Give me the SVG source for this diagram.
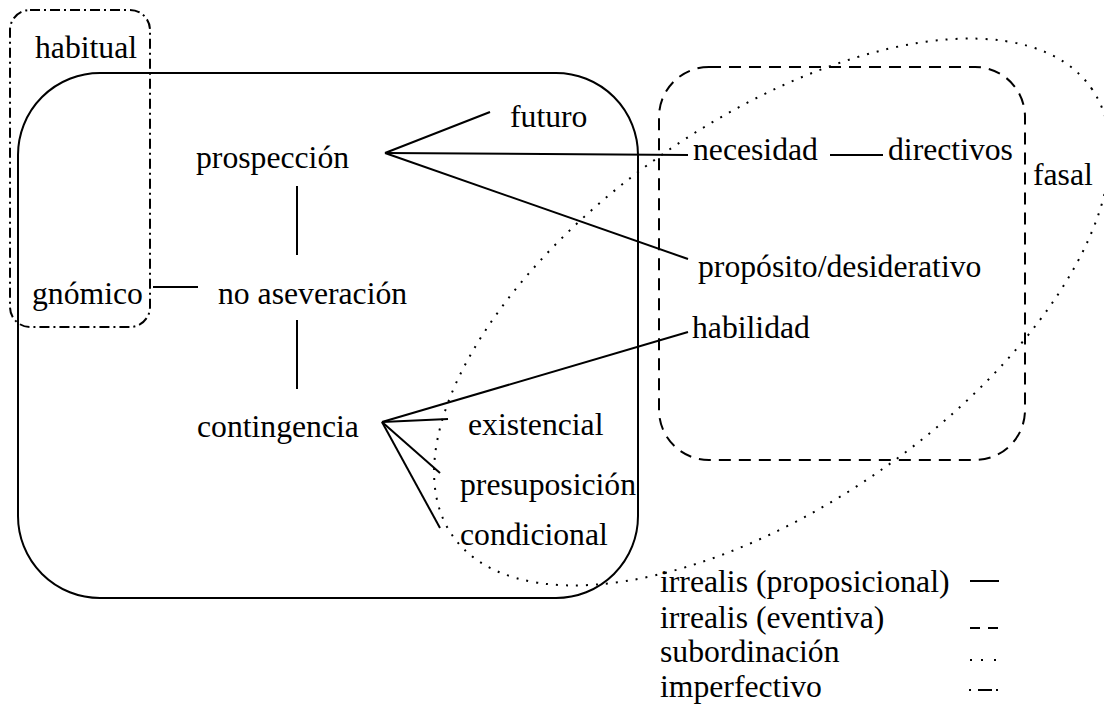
<svg xmlns="http://www.w3.org/2000/svg" width="1104" height="710" viewBox="0 0 1104 710">
<style>
.ln { stroke: #000; stroke-width: 2; fill: none; }
.solid { stroke: #000; stroke-width: 2; fill: none; }
.dash { stroke: #000; stroke-width: 2; fill: none; stroke-dasharray: 12 8; }
.dot { stroke: #000; stroke-width: 2; fill: none; stroke-dasharray: 2 8; }
.dashdot { stroke: #000; stroke-width: 2; fill: none; stroke-dasharray: 10 4 2 4; }
</style>
<rect width="1104" height="710" fill="#fff"/>
<g id="regions">
  <rect id="irrealis-proposicional" class="solid" x="18" y="73" width="620" height="525" rx="82" ry="82"/>
  <rect id="irrealis-eventiva" class="dash" x="659" y="67" width="366" height="393" rx="50" ry="50"/>
  <ellipse id="subordinacion" class="dot" cx="772" cy="312" rx="390" ry="192" transform="rotate(-35 772 312)"/>
  <rect id="imperfectivo" class="dashdot" x="10" y="10" width="140" height="317" rx="20" ry="20"/>
</g>
<g id="connectors">
  <line class="ln" x1="385" y1="153" x2="490" y2="112"/>
  <line class="ln" x1="385" y1="153" x2="688" y2="155"/>
  <line class="ln" x1="385" y1="153" x2="688" y2="259"/>
  <line class="ln" x1="297" y1="186" x2="297" y2="255"/>
  <line class="ln" x1="153" y1="287" x2="198" y2="287"/>
  <line class="ln" x1="297" y1="320" x2="297" y2="389"/>
  <line class="ln" x1="382" y1="422" x2="688" y2="332"/>
  <line class="ln" x1="382" y1="422" x2="448" y2="419"/>
  <line class="ln" x1="382" y1="422" x2="440" y2="473"/>
  <line class="ln" x1="382" y1="422" x2="440" y2="528"/>
  <line class="ln" x1="830" y1="155" x2="883" y2="155"/>
</g>
<g font-family="'Liberation Serif', 'DejaVu Serif', serif" font-size="31.7" fill="#000">
<g id="n-habitual"><text x="35" y="58">habitual</text></g>
<g id="n-prospeccion"><text x="196" y="168">prospección</text></g>
<g id="n-gnomico"><text x="32" y="304">gnómico</text></g>
<g id="n-no-aseveracion"><text x="218" y="304">no aseveración</text></g>
<g id="n-futuro"><text x="510" y="127">futuro</text></g>
<g id="n-necesidad"><text x="693" y="160">necesidad</text></g>
<g id="n-directivos"><text x="888" y="160">directivos</text></g>
<g id="n-fasal"><text x="1033" y="185">fasal</text></g>
<g id="n-proposito"><text x="698" y="277">propósito/desiderativo</text></g>
<g id="n-habilidad"><text x="692" y="338">habilidad</text></g>
<g id="n-contingencia"><text x="197" y="437">contingencia</text></g>
<g id="n-existencial"><text x="468" y="435">existencial</text></g>
<g id="n-presuposicion"><text x="460" y="495">presuposición</text></g>
<g id="n-condicional"><text x="460" y="545">condicional</text></g>
<g id="legend">
  <text x="660" y="592">irrealis (proposicional)</text>
  <text x="660" y="628">irrealis (eventiva)</text>
  <text x="660" y="662">subordinación</text>
  <text x="660" y="697">imperfectivo</text>
</g>
</g>
<g id="legend-samples">
  <line class="solid" x1="970" y1="581" x2="999" y2="581"/>
  <line class="solid" x1="970" y1="628" x2="980" y2="628"/>
  <line class="solid" x1="988" y1="628" x2="998" y2="628"/>
  <line class="solid" x1="970" y1="660" x2="972" y2="660"/>
  <line class="solid" x1="981" y1="660" x2="983" y2="660"/>
  <line class="solid" x1="994" y1="660" x2="996" y2="660"/>
  <line class="solid" x1="969" y1="690" x2="971" y2="690"/>
  <line class="solid" x1="978" y1="690" x2="992" y2="690"/>
  <line class="solid" x1="996" y1="690" x2="998" y2="690"/>
</g>
</svg>
